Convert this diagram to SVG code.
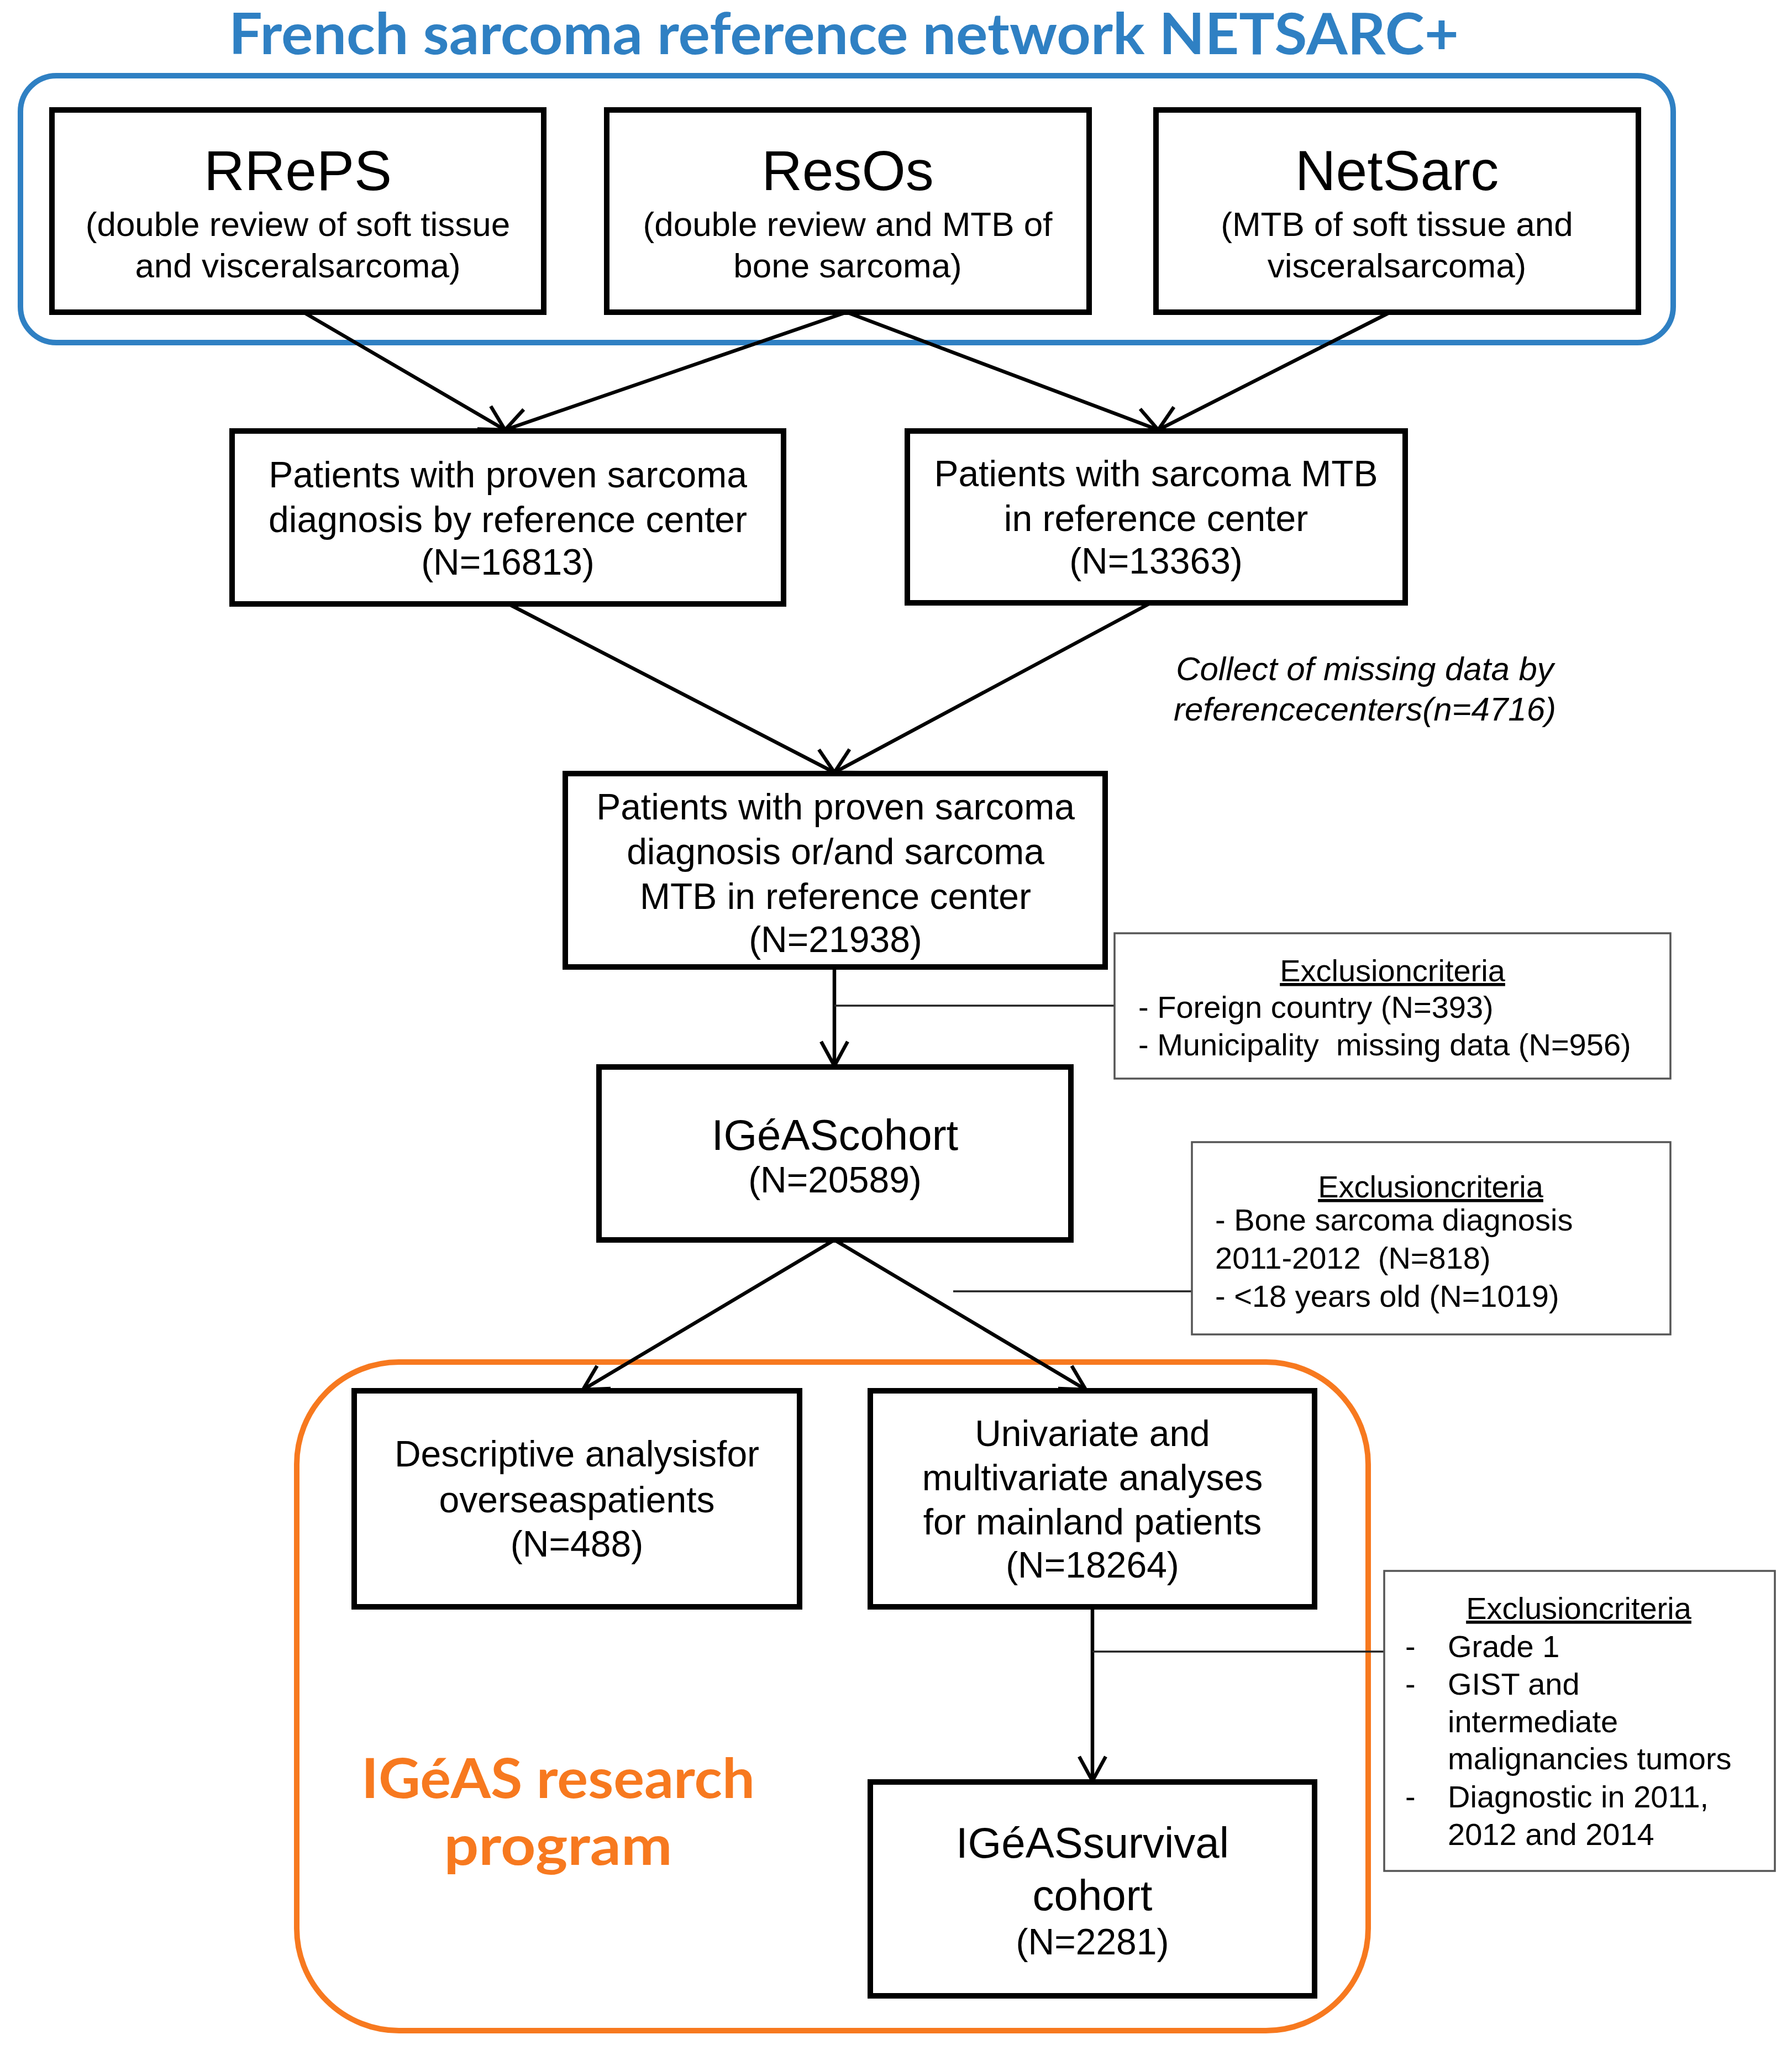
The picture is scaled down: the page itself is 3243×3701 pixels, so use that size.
<svg xmlns="http://www.w3.org/2000/svg" width="3243" height="3701" viewBox="0 0 3243 3701">
<style>
.box{fill:#fff;stroke:#000;stroke-width:10}
.ex{fill:#fff;stroke:#555;stroke-width:3.5}
.t{font-family:"Liberation Sans",Arial,sans-serif;fill:#000;text-anchor:middle}
.b66{font-size:66px}
.b62{font-size:62px}
.b78{font-size:78px}
.b100{font-size:102px}
.e{font-family:"Liberation Sans",Arial,sans-serif;font-size:56px;fill:#000}
.eh{text-anchor:middle;text-decoration:underline}
.conn{stroke:#000;stroke-width:6.5;fill:none}
.thin{stroke:#222;stroke-width:3.5;fill:none}
</style>
<defs>
<marker id="arr" markerUnits="userSpaceOnUse" markerWidth="100" markerHeight="100" refX="0" refY="0" orient="auto" overflow="visible" viewBox="-60 -50 100 100">
<path d="M -44 -24 L 0 0 L -44 24" fill="none" stroke="#000" stroke-width="6.5"/>
</marker>
</defs>
<rect width="3243" height="3701" fill="#fff"/>

<text x="414" y="98" font-family="Lato,'Open Sans',sans-serif" font-weight="bold" font-size="104" fill="#2F80C3" textLength="2226" lengthAdjust="spacingAndGlyphs">French sarcoma reference network NETSARC+</text>

<rect id="netsarc-frame" x="37" y="137" width="2991" height="483" rx="65" ry="65" fill="none" stroke="#2F80C3" stroke-width="10"/>
<rect id="igeas-frame" x="537" y="2465" width="1939" height="1210" rx="185" ry="185" fill="none" stroke="#F7791F" stroke-width="10"/>

<g id="connectors">
<line class="conn" x1="549" y1="565" x2="914" y2="778" marker-end="url(#arr)"/>
<line class="conn" x1="1532" y1="565" x2="914" y2="778" marker-end="url(#arr)"/>
<line class="conn" x1="1532" y1="565" x2="2096" y2="778" marker-end="url(#arr)"/>
<line class="conn" x1="2516" y1="565" x2="2096" y2="778" marker-end="url(#arr)"/>
<line class="conn" x1="922" y1="1094" x2="1510" y2="1398" marker-end="url(#arr)"/>
<line class="conn" x1="2081" y1="1092" x2="1510" y2="1398" marker-end="url(#arr)"/>
<line class="conn" x1="1510" y1="1750" x2="1510" y2="1929" stroke-width="5" marker-end="url(#arr)"/>
<line class="conn" x1="1510" y1="2244" x2="1055" y2="2515" marker-end="url(#arr)"/>
<line class="conn" x1="1510" y1="2244" x2="1965" y2="2515" marker-end="url(#arr)"/>
<line class="conn" x1="1977" y1="2908" x2="1977" y2="3223" stroke-width="5" marker-end="url(#arr)"/>
<line class="thin" x1="1510" y1="1820" x2="2017" y2="1820"/>
<line class="thin" x1="1725" y1="2337" x2="2157" y2="2337" stroke-width="5"/>
<line class="thin" x1="1977" y1="2989" x2="2505" y2="2989"/>
</g>

<g id="rreps">
<rect class="box" x="94" y="199" width="890" height="366"/>
<text class="t b100" x="539" y="344">RRePS</text>
<text class="t b62" x="539" y="427">(double review of soft tissue</text>
<text class="t b62" x="539" y="502">and visceralsarcoma)</text>
</g>
<g id="resos">
<rect class="box" x="1098" y="199" width="873" height="366"/>
<text class="t b100" x="1534" y="344">ResOs</text>
<text class="t b62" x="1534" y="427">(double review and MTB of</text>
<text class="t b62" x="1534" y="502">bone sarcoma)</text>
</g>
<g id="netsarc">
<rect class="box" x="2092" y="199" width="873" height="366"/>
<text class="t b100" x="2528" y="344">NetSarc</text>
<text class="t b62" x="2528" y="427">(MTB of soft tissue and</text>
<text class="t b62" x="2528" y="502">visceralsarcoma)</text>
</g>

<g id="proven-diagnosis">
<rect class="box" x="420" y="780" width="998" height="313"/>
<text class="t b66" x="919" y="882">Patients with  proven sarcoma</text>
<text class="t b66" x="919" y="963">diagnosis by reference center</text>
<text class="t b66" x="919" y="1040">(N=16813)</text>
</g>
<g id="sarcoma-mtb">
<rect class="box" x="1642" y="780" width="901" height="311"/>
<text class="t b66" x="2092" y="880">Patients with  sarcoma MTB</text>
<text class="t b66" x="2092" y="961">in reference center</text>
<text class="t b66" x="2092" y="1038">(N=13363)</text>
</g>

<g id="collect-note">
<text class="t" font-style="italic" font-size="60" x="2470" y="1231">Collect of missing data by</text>
<text class="t" font-style="italic" font-size="60" x="2470" y="1304">referencecenters(<tspan>n</tspan>=4716)</text>
</g>

<g id="combined">
<rect class="box" x="1023" y="1400" width="977" height="350"/>
<text class="t b66" x="1512" y="1483">Patients with proven sarcoma</text>
<text class="t b66" x="1512" y="1564">diagnosis or/and sarcoma</text>
<text class="t b66" x="1512" y="1645">MTB in reference center</text>
<text class="t b66" x="1512" y="1723">(N=21938)</text>
</g>

<g id="exclusion-1">
<rect class="ex" x="2017" y="1689" width="1006" height="263"/>
<text class="e eh" x="2520" y="1776">Exclusioncriteria</text>
<text class="e" x="2060" y="1842">- Foreign country (N=393)</text>
<text class="e" x="2060" y="1910" xml:space="preserve">- Municipality  missing data (N=956)</text>
</g>

<g id="igeas-cohort">
<rect class="box" x="1084" y="1931" width="854" height="313"/>
<text class="t b78" x="1511" y="2081">IGéAScohort</text>
<text class="t b66" x="1511" y="2158">(N=20589)</text>
</g>

<g id="exclusion-2">
<rect class="ex" x="2157" y="2067" width="866" height="348"/>
<text class="e eh" x="2589" y="2167">Exclusioncriteria</text>
<text class="e" x="2199" y="2227">- Bone sarcoma diagnosis</text>
<text class="e" x="2199" y="2296" xml:space="preserve">2011-2012  (N=818)</text>
<text class="e" x="2199" y="2365">- &lt;18 years old (N=1019)</text>
</g>

<g id="descriptive">
<rect class="box" x="641" y="2517" width="806" height="391"/>
<text class="t b66" x="1044" y="2654">Descriptive analysisfor</text>
<text class="t b66" x="1044" y="2737">overseaspatients</text>
<text class="t b66" x="1044" y="2817">(N=488)</text>
</g>

<g id="univariate">
<rect class="box" x="1575" y="2517" width="804" height="391"/>
<text class="t b66" x="1977" y="2617">Univariate and</text>
<text class="t b66" x="1977" y="2697">multivariate analyses</text>
<text class="t b66" x="1977" y="2777">for mainland patients</text>
<text class="t b66" x="1977" y="2855">(N=18264)</text>
</g>

<g id="exclusion-3">
<rect class="ex" x="2505" y="2843" width="707" height="543"/>
<text class="e eh" x="2857" y="2930">Exclusioncriteria</text>
<text class="e" x="2543" y="2999">-</text>
<text class="e" x="2620" y="2999">Grade 1</text>
<text class="e" x="2543" y="3067">-</text>
<text class="e" x="2620" y="3067">GIST and</text>
<text class="e" x="2620" y="3135">intermediate</text>
<text class="e" x="2620" y="3202">malignancies tumors</text>
<text class="e" x="2543" y="3271">-</text>
<text class="e" x="2620" y="3271">Diagnostic in 2011,</text>
<text class="e" x="2620" y="3339">2012 and 2014</text>
</g>

<g id="survival">
<rect class="box" x="1575" y="3225" width="804" height="387"/>
<text class="t b78" x="1977" y="3362">IGéASsurvival</text>
<text class="t b78" x="1977" y="3457">cohort</text>
<text class="t b66" x="1977" y="3537">(N=2281)</text>
</g>

<g id="igeas-label">
<text x="1010" y="3254" font-family="Lato,'Open Sans',sans-serif" font-weight="bold" font-size="100" fill="#F7791F" text-anchor="middle" textLength="712" lengthAdjust="spacingAndGlyphs">IGéAS research</text>
<text x="1010" y="3375" font-family="Lato,'Open Sans',sans-serif" font-weight="bold" font-size="100" fill="#F7791F" text-anchor="middle" textLength="413" lengthAdjust="spacingAndGlyphs">program</text>
</g>
</svg>
